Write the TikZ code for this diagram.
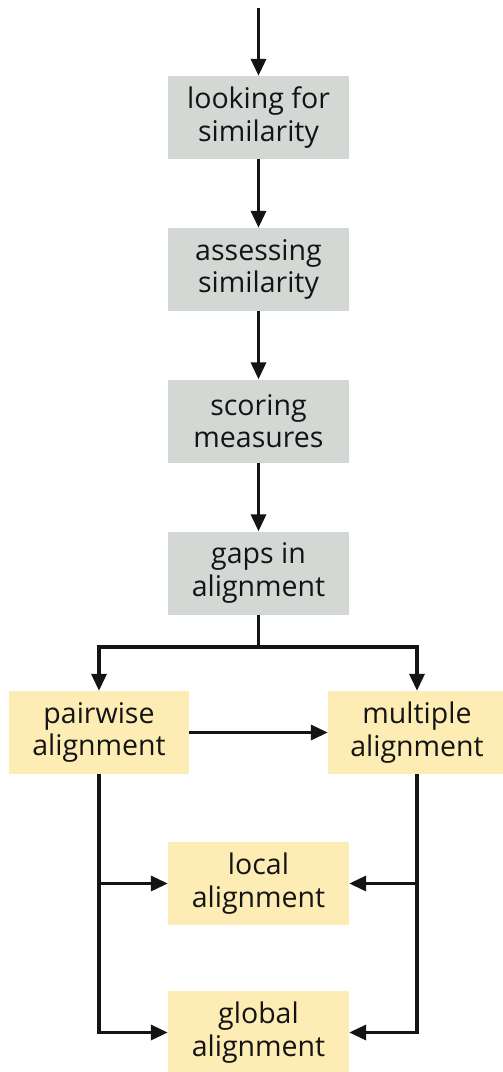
\documentclass[tikz,border=0pt]{standalone}
\usepackage{fontspec}
\setmainfont{Open Sans}
\usetikzlibrary{arrows.meta}
\definecolor{boxgray}{RGB}{211,216,213}
\definecolor{boxyellow}{RGB}{253,236,180}
\definecolor{ink}{RGB}{20,20,20}
\begin{document}
\begin{tikzpicture}[x=1pt,y=-1pt,
  stagebox/.style={fill=boxgray,draw=none,minimum width=181pt,minimum height=83pt,
    align=center,inner sep=0pt,text=ink,font=\fontsize{28.5}{32.5}\selectfont},
  kindbox/.style={stagebox,fill=boxyellow},
  arr/.style={draw=ink,line width=3.4pt,-{Triangle[length=17pt,width=15pt]}},
  line/.style={draw=ink,line width=3.4pt}]
\useasboundingbox (0,0) rectangle (503,1072);

\node[stagebox] (look) at (258.5,117.5) {looking for\\similarity};
\node[stagebox] (assess) at (258.5,269.5) {assessing\\similarity};
\node[stagebox] (score) at (258.5,421) {scoring\\measures};
\node[stagebox] (gaps) at (258.5,573) {gaps in\\alignment};

\node[kindbox, minimum width=180pt] (pair) at (99,732.5) {pairwise\\alignment};
\node[kindbox, minimum width=178pt] (multi) at (417,732.5) {multiple\\alignment};
\node[kindbox] (local) at (258.5,883.5) {local\\alignment};
\node[kindbox] (global) at (258.5,1032.5) {global\\alignment};

\coordinate (start) at (258.5,8);
\coordinate (split) at (258.5,647);

\draw[arr] (start) -- (look);
\draw[arr] (look) -- (assess);
\draw[arr] (assess) -- (score);
\draw[arr] (score) -- (gaps);

\draw[line] (gaps.south) -- (split);
\draw[arr] (split) -| (pair.north);
\draw[arr] (split) -| (multi.north);
\draw[arr] (pair.east) -- (multi.west);

\draw[arr] (pair.south) |- (global.west);
\draw[arr] (pair.south |- local.west) -- (local.west);
\draw[arr] (multi.south) |- (global.east);
\draw[arr] (multi.south |- local.east) -- (local.east);
\end{tikzpicture}
\end{document}
